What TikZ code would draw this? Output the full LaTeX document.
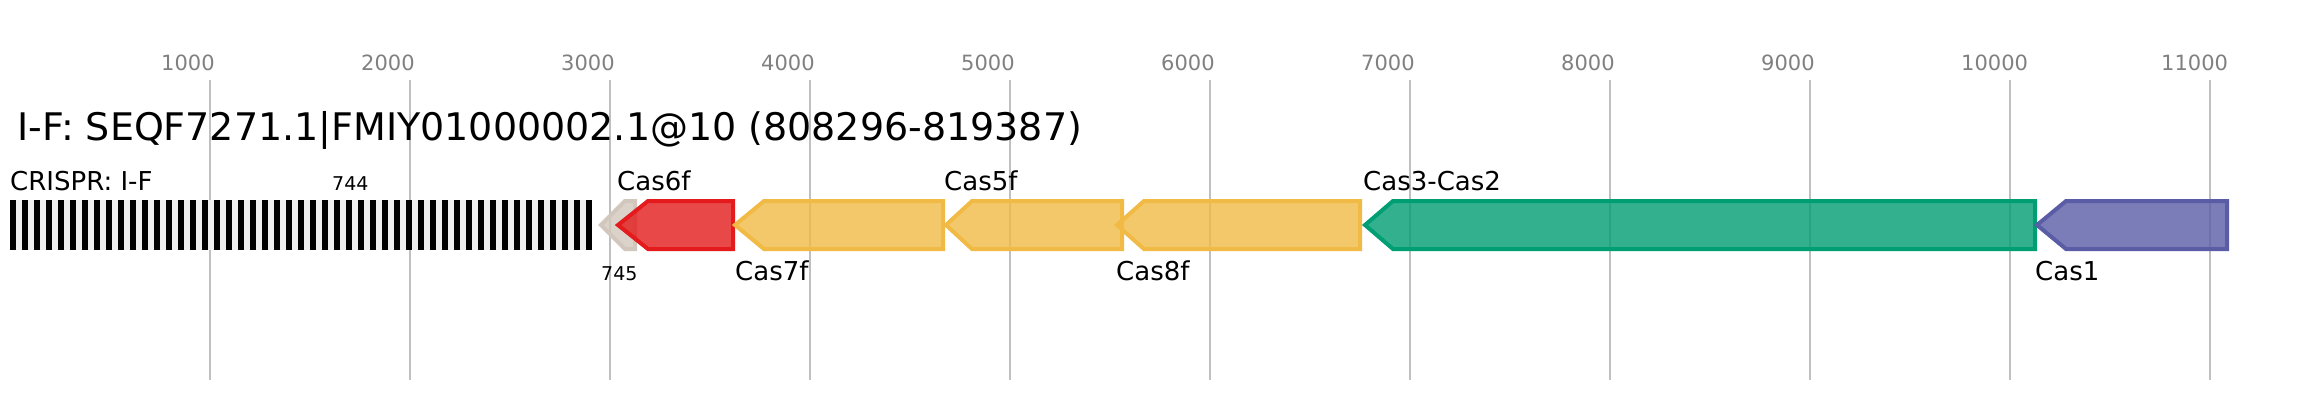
\documentclass[tikz,border=0pt]{standalone}
\usepackage{fontspec}
\setmainfont{DejaVu Sans}

\definecolor{gridgray}{HTML}{C0C0C0}
\definecolor{tickgray}{HTML}{808080}
\definecolor{spacergray}{HTML}{EEEEEE}
\definecolor{otherbeige}{HTML}{D2C7BD}
\definecolor{casred}{HTML}{E41A1C}
\definecolor{casyellow}{HTML}{F0BA45}
\definecolor{casgreen}{HTML}{009E73}
\definecolor{caspurple}{HTML}{5A5CA6}

\begin{document}
\begin{tikzpicture}[x=1pt, y=-1pt,
	gridline/.style = {draw=gridgray, line width=2pt},
	tick/.style = {anchor=base west, inner sep=0pt, text=tickgray, font=\fontsize{21}{21}\selectfont},
	gene/.style = {line width=4pt, line join=miter, fill opacity=0.8},
	lbl/.style = {anchor=base west, inner sep=0pt, font=\fontsize{26}{26}\selectfont},
	num/.style = {anchor=base west, inner sep=0pt, font=\fontsize{19}{19}\selectfont}]

	\useasboundingbox (0,0) rectangle (2318,400);

	% scale
	\foreach \k in {1,...,11} {
		\draw[gridline] (10+200*\k,80) -- (10+200*\k,380);
		\node[tick] (t\k) at (200*\k-39,70) {\k000};
	}

	\node[anchor=base west, inner sep=0pt, font=\fontsize{38}{38}\selectfont] (title) at (17,140)
		{I-F: SEQF7271.1|FMIY01000002.1@10 (808296-819387)};

	% crispr array
	\fill[spacergray] (10,200) rectangle (592,250);
	\foreach \i in {0,...,48}
		\fill[black] (10+12*\i,200) rectangle (16+12*\i,250);
	\node[lbl] (crispr) at (10,190) {CRISPR: I-F};
	\node[num] (n744) at (332,190) {744};

	% genes
	\draw[gene, draw=otherbeige, fill=otherbeige] (601,225) -- (625,201) -- (635,201) -- (635,249) -- (625,249) -- cycle;
	\draw[gene, draw=casred, fill=casred] (618,225) -- (648,201) -- (733,201) -- (733,249) -- (648,249) -- cycle;
	\draw[gene, draw=casyellow, fill=casyellow] (735,225) -- (764,201) -- (943,201) -- (943,249) -- (764,249) -- cycle;
	\draw[gene, draw=casyellow, fill=casyellow] (946,225) -- (972,201) -- (1122,201) -- (1122,249) -- (972,249) -- cycle;
	\draw[gene, draw=casyellow, fill=casyellow] (1117,225) -- (1144,201) -- (1360,201) -- (1360,249) -- (1144,249) -- cycle;
	\draw[gene, draw=casgreen, fill=casgreen] (1365,225) -- (1393,201) -- (2035,201) -- (2035,249) -- (1393,249) -- cycle;
	\draw[gene, draw=caspurple, fill=caspurple] (2037,225) -- (2066,201) -- (2227,201) -- (2227,249) -- (2066,249) -- cycle;

	\node[num] (n745) at (601,280) {745};
	\node[lbl] (cas6f) at (617,190) {Cas6f};
	\node[lbl] (cas7f) at (735,280) {Cas7f};
	\node[lbl] (cas5f) at (944,190) {Cas5f};
	\node[lbl] (cas8f) at (1116,280) {Cas8f};
	\node[lbl] (cas3) at (1363,190) {Cas3-Cas2};
	\node[lbl] (cas1) at (2035,280) {Cas1};
\end{tikzpicture}
\end{document}
